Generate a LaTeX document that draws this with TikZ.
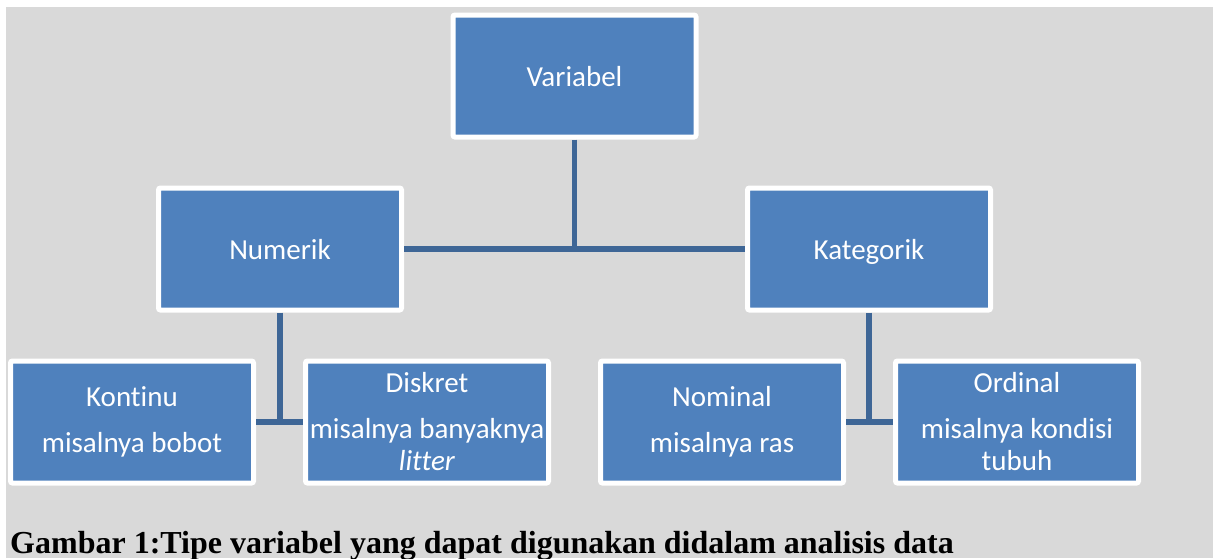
\documentclass[tikz,border=0pt]{standalone}
\usepackage{fontspec}
\setmainfont{Carlito}[Ligatures=NoCommon]
\newfontfamily\capfont{Liberation Serif}
\usepackage{tikz}
\usetikzlibrary{positioning}

\definecolor{boxblue}{HTML}{4F81BD}
\definecolor{linkblue}{HTML}{3E6696}
\definecolor{bggray}{HTML}{D9D9D9}

\begin{document}
\begin{tikzpicture}[
        x=1pt, y=1pt,
        node distance=46pt and 47pt,
        box/.style={rectangle, draw=white, line width=5pt, rounded corners=2pt, fill=boxblue, text=white, align=center, minimum width=243pt, minimum height=122pt, font=\fontsize{29}{32.5}\selectfont},
        topbox/.style={box, text height=24pt, text depth=3pt},
        link/.style={draw=linkblue, line width=5.5pt}
    ]

    % Background
    \useasboundingbox (0,0) rectangle (1213,-558);
    \fill[bggray] (6,-7) rectangle (1213,-558);

    % Nodes
    \node[topbox] (var) at (574.5,-76) {Variabel};
    \node[topbox, below=of var, xshift=-294.5pt] (num) {Numerik};
    \node[topbox, below=of var, xshift=294.5pt] (kat) {Kategorik};

    \node[box, below=of num, xshift=-148pt] (kon) {Kontinu\\[13pt]misalnya bobot};
    \node[box, right=of kon] (dis) {Diskret\\[13pt]misalnya banyaknya\\\textit{litter}};
    \node[box, right=of dis] (nom) {Nominal\\[13pt]misalnya ras};
    \node[box, right=of nom] (ord) {Ordinal\\[13pt]misalnya kondisi\\tubuh};

    \node[anchor=base west, inner sep=0pt, font=\capfont\bfseries\fontsize{32}{36}\selectfont] (cap) at (10,-553) {Gambar 1:Tipe variabel yang dapat digunakan didalam analisis data};

    % Lines
    \draw[link] (num.east) -- (kat.west);
    \draw[link] (var.south) -- (var.south |- num.east);
    \draw[link] (kon.east) -- (dis.west);
    \draw[link] (num.south) -- (num.south |- kon.east);
    \draw[link] (nom.east) -- (ord.west);
    \draw[link] (kat.south) -- (kat.south |- nom.east);

\end{tikzpicture}
\end{document}
